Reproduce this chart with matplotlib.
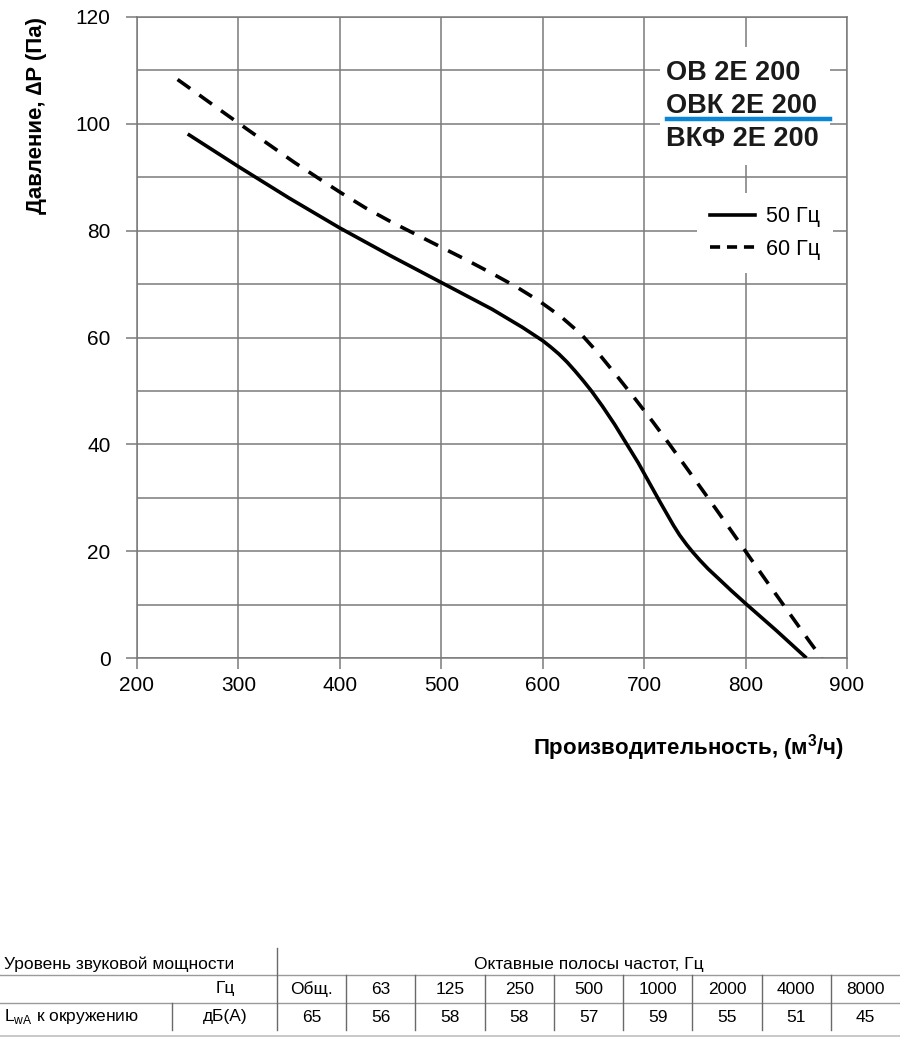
"""Fan curve OB 2E 200: pressure vs. airflow, with sound power table."""
import matplotlib
matplotlib.use('Agg')
import matplotlib.pyplot as plt
from matplotlib.patches import Rectangle
from matplotlib.lines import Line2D
from matplotlib.ticker import MultipleLocator

plt.rcParams['font.family'] = ['Liberation Sans', 'DejaVu Sans']

# 50 Hz curve (solid)
flow_50 = [250, 300, 350, 400, 450, 500, 550, 580, 600, 608, 616, 624, 632, 640,
           648, 659, 671, 682, 694, 706, 716, 729, 735, 742, 748, 755, 763, 772,
           786, 800, 830, 860]
press_50 = [98.1, 92.0, 86.1, 80.5, 75.3, 70.3, 65.3, 61.9, 59.4, 58.2, 56.9, 55.4,
            53.7, 51.9, 50.0, 47.1, 43.7, 40.3, 36.6, 32.5, 29.1, 24.8, 23.0, 21.2,
            19.8, 18.3, 16.7, 15.1, 12.6, 10.2, 5.2, 0]

# 60 Hz curve (dashed)
flow_60 = [240, 265, 287, 310, 331, 355, 379, 401, 425, 450, 475, 500, 524, 548,
           573, 596, 618, 638, 656, 674, 692, 709, 725, 744, 758, 773, 790, 805,
           821, 836, 851, 863, 875]
press_60 = [108.3, 104.9, 101.9, 98.8, 96.0, 92.8, 89.8, 87.1, 84.3, 81.7, 79.3, 76.9,
            74.6, 72.2, 69.6, 66.9, 63.9, 60.6, 56.8, 52.6, 48.3, 44.1, 40.0, 35.0,
            31.3, 27.3, 22.7, 18.6, 14.3, 10.3, 6.3, 3.1, 0]

models = ["ОВ 2Е 200", "ОВК 2Е 200", "ВКФ 2Е 200"]
legend_labels = ["50 Гц", "60 Гц"]

bands = ["Общ.", "63", "125", "250", "500", "1000", "2000", "4000", "8000"]
lwa_values = ["65", "56", "58", "58", "57", "59", "55", "51", "45"]

W, H = 900, 1037


def fx(x):
    return x / W


def fy(y):
    return 1 - y / H


fig = plt.figure(figsize=(W / 100, H / 100), dpi=100, facecolor='white')
ax = fig.add_axes([fx(137), fy(658), fx(847) - fx(137), fy(17) - fy(658)])

grid_col = '#7a7a7a'
ax.set_xlim(200, 900)
ax.set_ylim(0, 120)
ax.xaxis.set_major_locator(MultipleLocator(100))
ax.yaxis.set_major_locator(MultipleLocator(20))
ax.yaxis.set_minor_locator(MultipleLocator(10))
ax.grid(which='both', color=grid_col, lw=1.1)
ax.set_axisbelow(True)
ax.tick_params(which='major', direction='out', length=8, width=1.1, color=grid_col,
               labelsize=15)
ax.tick_params(axis='y', pad=11)
ax.tick_params(axis='x', pad=5)
ax.tick_params(which='minor', length=0)
for s in ax.spines.values():
    s.set_color(grid_col)
    s.set_linewidth(1.1)

ax.plot(flow_50, press_50, color='black', lw=2.6, solid_capstyle='butt',
        solid_joinstyle='round', zorder=4)
ax.plot(flow_60, press_60, color='black', lw=2.6, dashes=(4.3, 3.1), zorder=4)

# white area behind the model names
ax.add_patch(Rectangle((fx(660), fy(165)), fx(830) - fx(660), fy(47) - fy(165),
                       transform=fig.transFigure, facecolor='white', edgecolor='none',
                       zorder=3, clip_on=False))
for i, m in enumerate(models):
    fig.text(fx(666), fy(73 + i * 33), m, fontsize=19.5, fontweight='bold',
             color='#1a1a1a', ha='left', va='center', zorder=5)
fig.add_artist(Line2D([fx(667), fx(830)], [fy(119), fy(119)], color='#0a86d8', lw=3.2))

handles = [Line2D([], [], color='black', lw=2.6),
           Line2D([], [], color='black', lw=2.6, dashes=(2.8, 1.9))]
leg = ax.legend(handles, legend_labels, loc='center', bbox_to_anchor=(fx(765), fy(233)),
                bbox_transform=fig.transFigure, fontsize=15.5, frameon=True,
                framealpha=1, edgecolor='none', fancybox=False, handlelength=2.1,
                handletextpad=0.5, labelspacing=0.55, borderpad=0.6)
leg.set_zorder(5)

fig.text(fx(37), fy(115), "Давление, ∆P (Па)", rotation=90, fontsize=16,
         fontweight='bold', ha='center', va='center')
fig.text(fx(844), fy(748), "Производительность, (м$^\\mathregular{3}$/ч)", fontsize=16,
         fontweight='bold', ha='right', va='center')

# sound power table
tfont = ['Liberation Sans', 'DejaVu Sans']
tsize = 12.5
col0 = 277
colw = (900 - col0) / len(bands)
line_col = '#6a6a6a'


def hline(y, x0, x1, col=line_col, lw=1.0):
    fig.add_artist(Line2D([fx(x0), fx(x1)], [fy(y), fy(y)], color=col, lw=lw))


def vline(x, y0, y1):
    fig.add_artist(Line2D([fx(x), fx(x)], [fy(y0), fy(y1)], color=line_col, lw=1.0))


hline(975, 0, 900, col='#9a9a9a')
hline(1003, 0, 900, col='#9a9a9a')
hline(1036, 0, 900, col='#c8c8c8', lw=1.4)
vline(col0, 948, 1030)
vline(172, 1003, 1030)
for i in range(1, len(bands)):
    vline(col0 + i * colw, 975, 1030)

fig.text(fx(4), fy(964), "Уровень звуковой мощности", family=tfont, fontsize=tsize,
         ha='left', va='center')
fig.text(fx((col0 + 900) / 2), fy(964), "Октавные полосы частот, Гц", family=tfont,
         fontsize=tsize, ha='center', va='center')
fig.text(fx(225), fy(989), "Гц", family=tfont, fontsize=tsize, ha='center', va='center')
fig.text(fx(4), fy(1017), "L$_\\mathregular{wA}$ к окружению", family=tfont,
         fontsize=tsize, ha='left', va='center')
fig.text(fx(225), fy(1017), "дБ(А)", family=tfont, fontsize=tsize, ha='center', va='center')
for i, (b, v) in enumerate(zip(bands, lwa_values)):
    xc = col0 + (i + 0.5) * colw
    fig.text(fx(xc), fy(989), b, family=tfont, fontsize=tsize, ha='center', va='center')
    fig.text(fx(xc), fy(1017), v, family=tfont, fontsize=tsize, ha='center', va='center')

fig.savefig('out.png', dpi=100, facecolor='white')
